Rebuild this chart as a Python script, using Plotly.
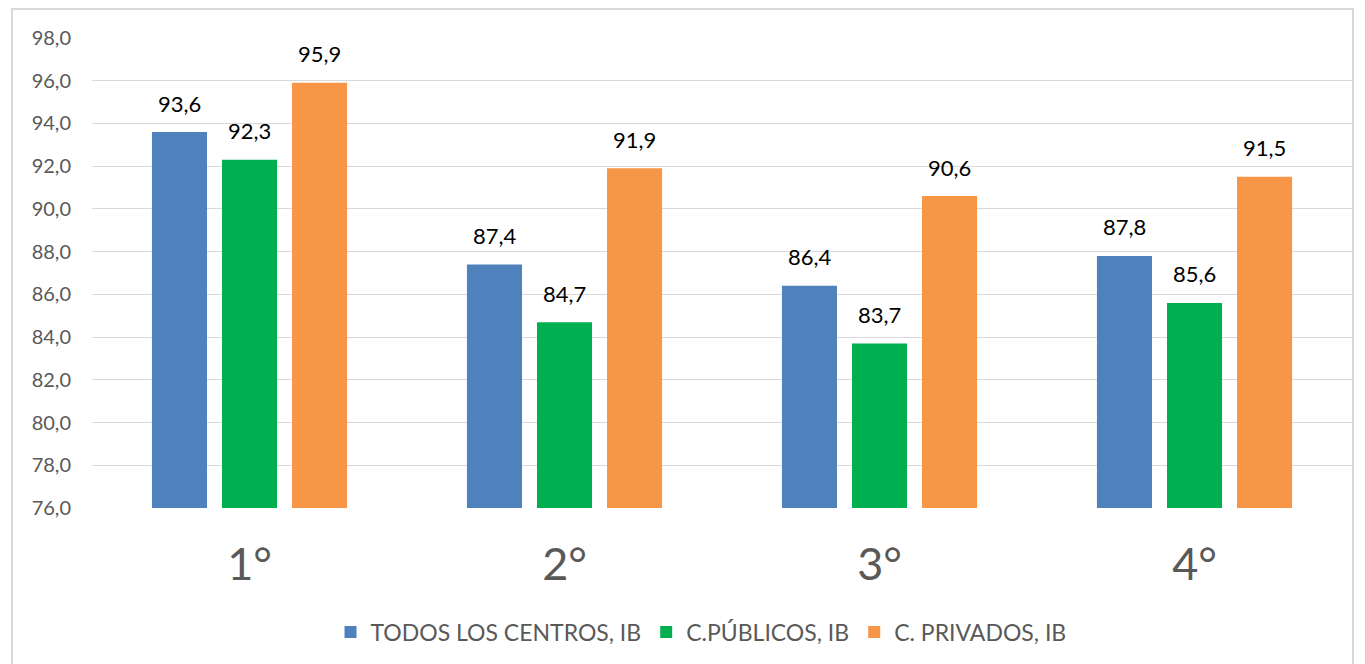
import plotly.graph_objects as go

categories = ["1°", "2°", "3°", "4°"]
series_names = ["TODOS LOS CENTROS, IB", "C.PÚBLICOS, IB", "C. PRIVADOS, IB"]
todos = [93.6, 87.4, 86.4, 87.8]
publicos = [92.3, 84.7, 83.7, 85.6]
privados = [95.9, 91.9, 90.6, 91.5]
colors = ["#4F81BD", "#00B050", "#F79646"]
y_ticks = [76, 78, 80, 82, 84, 86, 88, 90, 92, 94, 96, 98]

all_series = [todos, publicos, privados]
fig = go.Figure()
for name, vals, col in zip(series_names, all_series, colors):
    fig.add_trace(go.Bar(x=categories, y=vals, name=name, marker=dict(color=col, line=dict(width=0))))

offsets = [-70, 0, 70]
annotations = []
for vals, off in zip(all_series, offsets):
    for c, v in zip(categories, vals):
        annotations.append(dict(x=c, y=v, xref="x", yref="y", text=f"{v:.1f}".replace(".", ","),
                                showarrow=False, xshift=off, yshift=29, yanchor="middle",
                                font=dict(family="Lato", size=22, color="#000000")))

# page is offset by body margin of 8px
OFF = 8
W, H = 1365 - OFF, 664 - OFF
L, R, T, B = 92 - OFF, 13, 38 - OFF, 155
pw, ph = W - L - R, H - T - B
def px(x):
    return (x - OFF - L) / pw
def py(y):
    return (H - B - (y - OFF)) / ph

fig.update_layout(
    width=W, height=H,
    margin=dict(l=L, r=R, t=T, b=B, pad=0),
    paper_bgcolor="white", plot_bgcolor="white",
    separators=",.",
    barmode="group", bargap=0.333, bargroupgap=0.214,
    font=dict(family="Lato", color="#595959"),
    annotations=annotations,
    legend=dict(orientation="h", x=px(701), xanchor="center", y=py(632), yanchor="middle",
                font=dict(size=23, color="#595959"), itemwidth=30, traceorder="normal"),
    shapes=[dict(type="rect", xref="paper", yref="paper", x0=px(12), x1=px(1353), y0=py(700), y1=py(9),
                 line=dict(color="#d9d9d9", width=2), fillcolor="rgba(0,0,0,0)", layer="below")],
)
fig.update_yaxes(range=[76, 98], tickvals=y_ticks, tickformat=".1f", showgrid=True, gridcolor="#d9d9d9",
                 gridwidth=1, zeroline=False, showline=False, tickfont=dict(size=20, color="#595959"),
                 ticks="", ticklabelstandoff=20)
fig.update_xaxes(showgrid=False, showline=False, zeroline=False, tickfont=dict(size=45, color="#595959"),
                 ticks="", ticklabelstandoff=26)

fig.write_html("out.html")
